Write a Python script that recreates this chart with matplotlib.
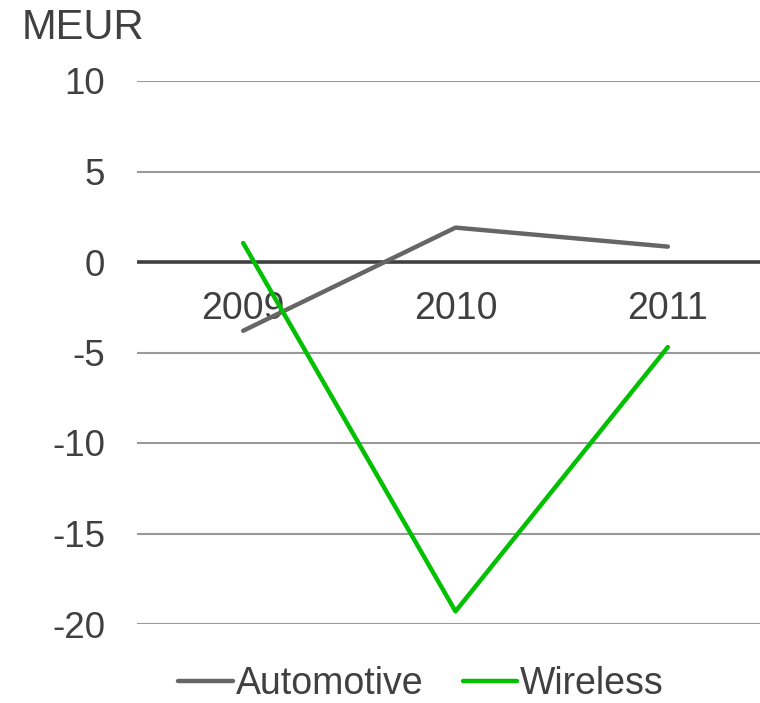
import numpy as np
import matplotlib.pyplot as plt

plt.rcParams['font.family'] = ['Liberation Sans', 'DejaVu Sans']

years = ["2009", "2010", "2011"]
automotive = [-3.8, 1.9, 0.85]
wireless = [1.05, -19.3, -4.7]

txt = '#404040'
fig = plt.figure(figsize=(7.6, 7.03), dpi=100)
ax = fig.add_axes([137/760, 1 - 624/703, (774 - 137)/760, (624 - 81)/703])

x = np.arange(len(years))
ax.plot(x, automotive, color='#666666', lw=3.2, solid_capstyle='round', label='Automotive', zorder=4)
ax.plot(x, wireless, color='#00C000', lw=3.2, solid_capstyle='round', label='Wireless', zorder=4)

ax.set_xlim(-0.5, 2.5)
ax.set_ylim(-20, 10)
ax.set_yticks(np.arange(-20, 11, 5))
ax.set_yticklabels([str(v) for v in range(-20, 11, 5)], fontsize=26.5, color=txt)
ax.tick_params(axis='y', length=0, pad=23)
ax.set_xticks([])
for v in range(-20, 11, 5):
    if v != 0:
        ax.axhline(v, color='#999999', lw=1.5, zorder=1)
ax.axhline(0, color='#404040', lw=2.6, zorder=2)
for sp in ax.spines.values():
    sp.set_visible(False)

# category labels sit just under the zero line
for xi, yr in zip(x, years):
    ax.text(xi, -1.6, yr, ha='center', va='top', fontsize=27, color=txt, zorder=3)

fig.text(22/760, 1 - 28/703, 'MEUR', ha='left', va='center', fontsize=30, color=txt)

leg = fig.legend(loc='center', bbox_to_anchor=(421/760, 1 - 684/703), ncol=2, frameon=False,
                 fontsize=27, handlelength=1.45, handletextpad=0.08, columnspacing=1.05,
                 borderpad=0.2)
for t in leg.get_texts():
    t.set_color(txt)

fig.savefig('out.png', dpi=100)
